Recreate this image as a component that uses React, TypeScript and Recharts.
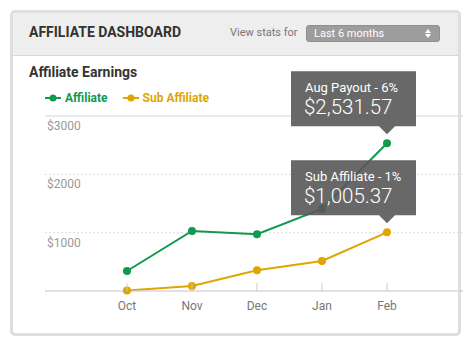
import React from "react";
import { LineChart, Line, XAxis, YAxis, CartesianGrid, ReferenceLine, LabelList } from "recharts";

const months = ["Oct", "Nov", "Dec", "Jan", "Feb"];
const affiliate = [343, 1029, 972, 1406, 2531.57];
const subAffiliate = [10, 86, 355, 515, 1005.37];
const yTicks = [0, 1000, 2000, 3000];
const seriesNames = ["Affiliate", "Sub Affiliate"];
const calloutTitles = ["Aug Payout - 6%", "Sub Affiliate - 1%"];

const GREEN = "#10994f";
const GOLD = "#dfa600";
const FONT = "Roboto, 'Noto Sans', sans-serif";

const data = months.map((m, i) => ({ month: m, affiliate: affiliate[i], sub: subAffiliate[i] }));

const money = (v: number) =>
  "$" + v.toLocaleString("en-US", { minimumFractionDigits: 2, maximumFractionDigits: 2 });

const YTick = ({ y, payload }: any) => {
  if (payload.value === 0) return null;
  return (
    <text x={47} y={y + 14} fill="#999" fontSize={12} fontFamily={FONT}>
      ${payload.value}
    </text>
  );
};

const XTick = ({ x, y, payload }: any) => (
  <g>
    <line x1={x} x2={x} y1={y - 8} y2={y} stroke="#ccc" />
    <text x={x} y={y + 19} textAnchor="middle" fill="#777" fontSize={12} fontFamily={FONT}>
      {payload.value}
    </text>
  </g>
);

// dark callout box with arrow, only on the last point
const callout = (title: string) => (props: any) => {
  const { x, y, index, value } = props;
  if (index !== months.length - 1) return null;
  const left = x - 96;
  const right = x + 29;
  const bottom = y - 17;
  const top = bottom - 55;
  const d = `M${left},${top} H${right} V${bottom} H${x + 8} L${x},${y - 9} L${x - 8},${bottom} H${left} Z`;
  return (
    <g>
      <path d={d} fill="rgba(88,88,88,0.9)" />
      <text x={left + 14} y={top + 21} fill="#fff" fontSize={13} fontFamily={FONT}>
        {title}
      </text>
      <text x={left + 13} y={top + 43} fill="#fff" fontSize={20.5} fontWeight={300} fontFamily={FONT}>
        {money(value)}
      </text>
    </g>
  );
};

const LegendIcon = ({ color }: { color: string }) => (
  <svg width={16} height={8} style={{ marginRight: 4 }}>
    <line x1={0} x2={16} y1={4} y2={4} stroke={color} strokeWidth={2} />
    <circle cx={8} cy={4} r={3.5} fill={color} />
  </svg>
);

export default function App() {
  return (
    <div style={{ position: "absolute", left: 0, top: 0, width: 474, height: 342, fontFamily: FONT, background: "#fff" }}>
      <div
        style={{
          position: "absolute",
          left: 10,
          top: 10,
          width: 451,
          height: 326,
          border: "3px solid #dedede",
          borderRadius: 5,
          boxSizing: "border-box",
          background: "#fff",
          overflow: "hidden",
        }}
      >
        <div style={{ height: 42, background: "#eee", borderBottom: "1px solid #d8d8d8" }} />
      </div>

      <div style={{ position: "absolute", left: 29, top: 24, fontSize: 14, fontWeight: 700, color: "#333" }}>
        AFFILIATE DASHBOARD
      </div>
      <div style={{ position: "absolute", left: 230, top: 26, fontSize: 11, color: "#777" }}>View stats for</div>
      <div
        style={{
          position: "absolute",
          left: 306,
          top: 25,
          width: 134,
          height: 17,
          background: "#9d9d9d",
          borderRadius: 3,
          boxSizing: "border-box",
          border: "1px solid #8f8f8f",
          color: "#fff",
          fontSize: 11,
          lineHeight: "15px",
          paddingLeft: 7,
        }}
      >
        Last 6 months
        <svg width={6} height={9} style={{ position: "absolute", right: 8, top: 3 }}>
          <path d="M0,4 L3,0 L6,4 Z M0,5 L3,9 L6,5 Z" fill="#fff" />
        </svg>
      </div>

      <div style={{ position: "absolute", left: 29, top: 64, fontSize: 14, fontWeight: 700, color: "#333" }}>
        Affiliate Earnings
      </div>
      <div style={{ position: "absolute", left: 45, top: 91, display: "flex", alignItems: "center", fontSize: 12, fontWeight: 700 }}>
        <LegendIcon color={GREEN} />
        <span style={{ color: GREEN, marginRight: 15 }}>{seriesNames[0]}</span>
        <LegendIcon color={GOLD} />
        <span style={{ color: GOLD }}>{seriesNames[1]}</span>
      </div>

      <div style={{ position: "absolute", left: 0, top: 0 }}>
        <LineChart width={474} height={342} data={data} margin={{ top: 116, right: 11, bottom: 21, left: 0 }}>
          <CartesianGrid horizontal vertical={false} stroke="#ddd" strokeDasharray="2 2" />
          <ReferenceLine y={3000} stroke="#ddd" />
          <XAxis
            dataKey="month"
            height={30}
            padding={{ left: 82, right: 76 }}
            axisLine={{ stroke: "#ccc" }}
            tickLine={false}
            tickSize={0}
            tickMargin={0}
            tick={<XTick />}
          />
          <YAxis
            width={45}
            domain={[0, 3000]}
            ticks={yTicks}
            axisLine={false}
            tickLine={false}
            tick={<YTick />}
          />
          <Line
            dataKey="affiliate"
            name={seriesNames[0]}
            stroke={GREEN}
            strokeWidth={2}
            dot={{ r: 4, fill: GREEN, stroke: "none" }}
            isAnimationActive={false}
          >
            <LabelList dataKey="affiliate" content={callout(calloutTitles[0])} />
          </Line>
          <Line
            dataKey="sub"
            name={seriesNames[1]}
            stroke={GOLD}
            strokeWidth={2}
            dot={{ r: 4, fill: GOLD, stroke: "none" }}
            isAnimationActive={false}
          >
            <LabelList dataKey="sub" content={callout(calloutTitles[1])} />
          </Line>
        </LineChart>
      </div>
    </div>
  );
}
